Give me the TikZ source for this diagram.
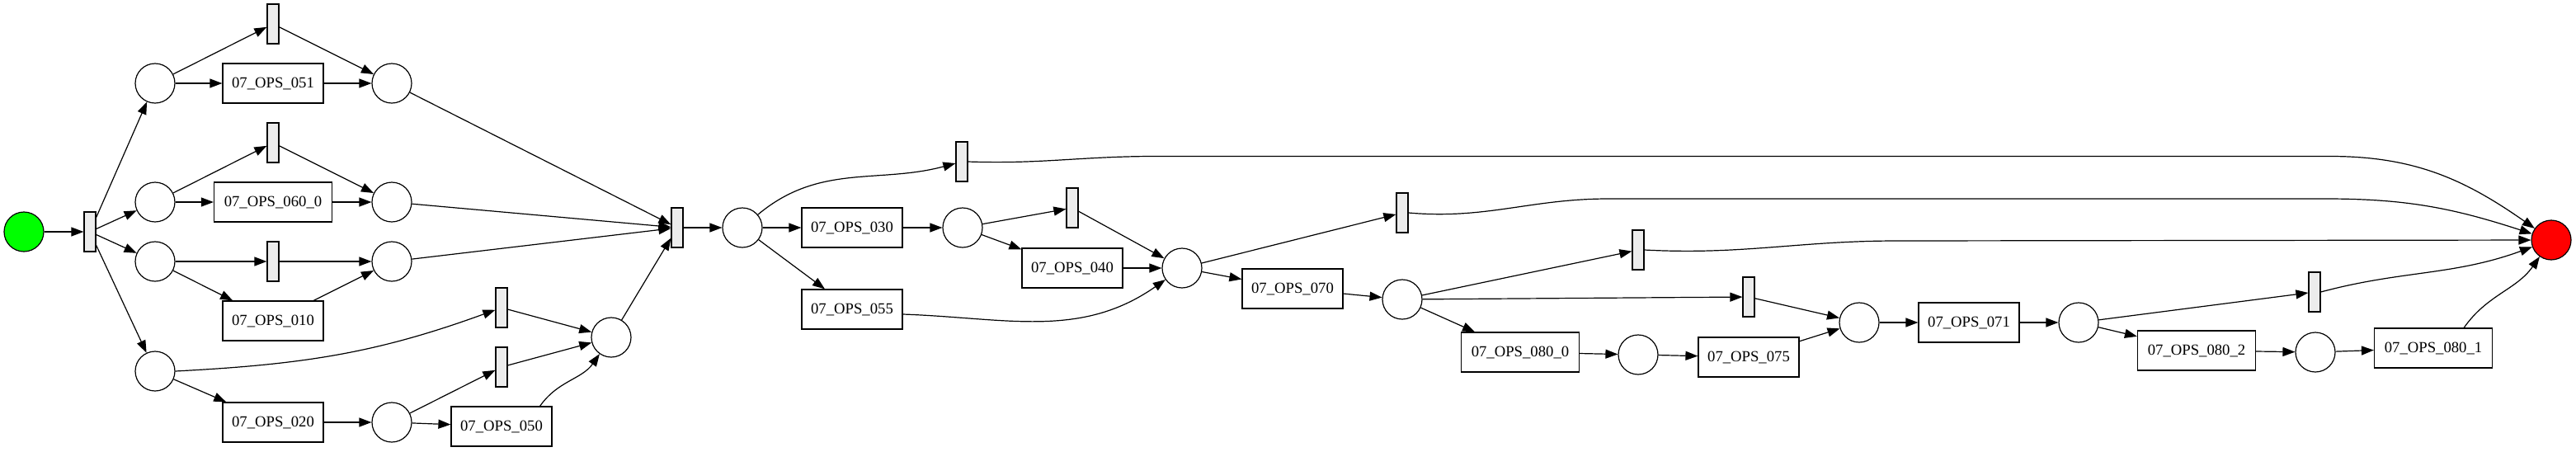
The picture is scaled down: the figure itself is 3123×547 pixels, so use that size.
\documentclass[tikz,border=0pt]{standalone}
\usepackage{fontspec}
\setmainfont{Liberation Serif}
\usetikzlibrary{arrows.meta}
\begin{document}
\begin{tikzpicture}[x=1pt,y=-1pt,
  every path/.style={line width=1.2pt},
  place/.style={circle,draw,line width=1.2pt,minimum size=48pt,inner sep=0pt,fill=white},
  trans/.style={rectangle,draw,line width=1.2pt,fill=gray!15,minimum width=14pt,minimum height=48pt,inner sep=0pt},
  act/.style={rectangle,draw,line width=1.2pt,minimum width=122pt,minimum height=48pt,inner sep=0pt,font=\fontsize{18.7}{22}\selectfont},
  actw/.style={act,minimum width=143pt},
  arc/.style={-{Triangle[length=15pt,width=11pt]},line width=1.2pt}]
\useasboundingbox (0,0) rectangle (3123,547);
% places and transitions
\node[place,fill={rgb,255:red,0;green,255;blue,0}] (s) at (29,281) {};
\node[trans] (t0) at (109,281) {};
\node[place] (p1) at (188,101) {};
\node[place] (p2) at (188,245) {};
\node[place] (p3) at (188,317) {};
\node[place] (p4) at (188,450) {};
\node[trans] (tA) at (331,29) {};
\node[act] (b051) at (331,101) {07\_OPS\_051};
\node[trans] (tB) at (331,173) {};
\node[actw] (b060) at (331,245) {07\_OPS\_060\_0};
\node[trans] (tC) at (331,317) {};
\node[act] (b010) at (331,389) {07\_OPS\_010};
\node[act] (b020) at (331,512) {07\_OPS\_020};
\node[place] (p5) at (475,101) {};
\node[place] (p6) at (475,245) {};
\node[place] (p7) at (475,317) {};
\node[place] (p8) at (475,512) {};
\node[trans] (tD) at (608,373) {};
\node[trans] (tE) at (608,445) {};
\node[act] (b050) at (608,517) {07\_OPS\_050};
\node[place] (p9) at (741,409) {};
\node[trans] (tJ) at (821,276) {};
\node[place] (p10) at (900,276) {};
\node[act] (b030) at (1033,276) {07\_OPS\_030};
\node[act] (b055) at (1033,375) {07\_OPS\_055};
\node[trans] (tF) at (1166,196) {};
\node[place] (p11) at (1167,276) {};
\node[trans] (tG) at (1300,252) {};
\node[act] (b040) at (1300,325) {07\_OPS\_040};
\node[place] (p12) at (1433,325) {};
\node[trans] (tH) at (1700,258) {};
\node[act] (b070) at (1567,350) {07\_OPS\_070};
\node[place] (p13) at (1700,363) {};
\node[trans] (tI) at (1986,303) {};
\node[trans] (tK) at (2120,360) {};
\node[actw] (b0800) at (1843,427) {07\_OPS\_080\_0};
\node[place] (p14) at (1986,430) {};
\node[act] (b075) at (2120,433) {07\_OPS\_075};
\node[place] (p15) at (2254,391) {};
\node[act] (b071) at (2387,391) {07\_OPS\_071};
\node[place] (p16) at (2520,391) {};
\node[trans] (tL) at (2806,354) {};
\node[actw] (b0802) at (2663,425) {07\_OPS\_080\_2};
\node[place] (p17) at (2807,427) {};
\node[actw] (b0801) at (2950,422) {07\_OPS\_080\_1};
\node[place,fill={rgb,255:red,255;green,0;blue,0}] (e) at (3093,291) {};
% arcs
\draw[arc] (s) -- (t0);
\draw[arc] (t0) -- (p1);
\draw[arc] (t0) -- (p2);
\draw[arc] (t0) -- (p3);
\draw[arc] (t0) -- (p4);
\draw[arc] (p1) -- (tA);
\draw[arc] (p1) -- (b051);
\draw[arc] (tA) -- (p5);
\draw[arc] (b051) -- (p5);
\draw[arc] (p2) -- (tB);
\draw[arc] (p2) -- (b060);
\draw[arc] (tB) -- (p6);
\draw[arc] (b060) -- (p6);
\draw[arc] (p3) -- (tC);
\draw[arc] (p3) -- (b010);
\draw[arc] (tC) -- (p7);
\draw[arc] (b010) -- (p7);
\draw[arc] (p4.east) to[out=3,in=200] (tD);
\draw[arc] (p4) -- (b020);
\draw[arc] (b020) -- (p8);
\draw[arc] (p8) -- (tE);
\draw[arc] (p8) -- (b050);
\draw[arc] (tD) -- (p9);
\draw[arc] (tE) -- (p9);
\draw[arc] (b050.north east) ++(-15,0) to[out=55,in=235] (p9);
\draw[arc] (p5) -- (tJ);
\draw[arc] (p6) -- (tJ);
\draw[arc] (p7) -- (tJ);
\draw[arc] (p9) -- (tJ);
\draw[arc] (tJ) -- (p10);
\draw[arc] (p10) to[out=40,in=195] (tF);
\draw[arc] (p10) -- (b030);
\draw[arc] (p10) -- (b055);
\draw[arc] (b030) -- (p11);
\draw[arc] (p11) -- (tG);
\draw[arc] (p11) -- (b040);
\draw[arc] (tG) -- (p12);
\draw[arc] (b040) -- (p12);
\draw[arc] (b055.east) ++(0,6) to[out=-2,in=215] (p12);
\draw[arc] (p12) -- (tH);
\draw[arc] (p12) -- (b070);
\draw[arc] (b070) -- (p13);
\draw[arc] (p13) -- (tI);
\draw[arc] (p13) -- (tK);
\draw[arc] (p13) -- (b0800);
\draw[arc] (b0800) -- (p14);
\draw[arc] (p14) -- (b075);
\draw[arc] (tK) -- (p15);
\draw[arc] (b075) -- (p15);
\draw[arc] (p15) -- (b071);
\draw[arc] (b071) -- (p16);
\draw[arc] (p16) -- (tL);
\draw[arc] (p16) -- (b0802);
\draw[arc] (b0802) -- (p17);
\draw[arc] (p17) -- (b0801);
\draw[arc] (tF.east) to[out=-2,in=180] (1400,189.5) -- (2825,189.5) to[out=0,in=145] (e);
\draw[arc] (tH.east) to[out=-5,in=180] (1950,241) -- (2820,241) to[out=0,in=162] (e);
\draw[arc] (tI.east) to[out=-3,in=180] (2300,292) -- (e);
\draw[arc] (tL.east) to[out=15,in=200] (e);
\draw[arc] (b0801.north east) ++(-35,0) to[out=55,in=235] (e);
\end{tikzpicture}
\end{document}
